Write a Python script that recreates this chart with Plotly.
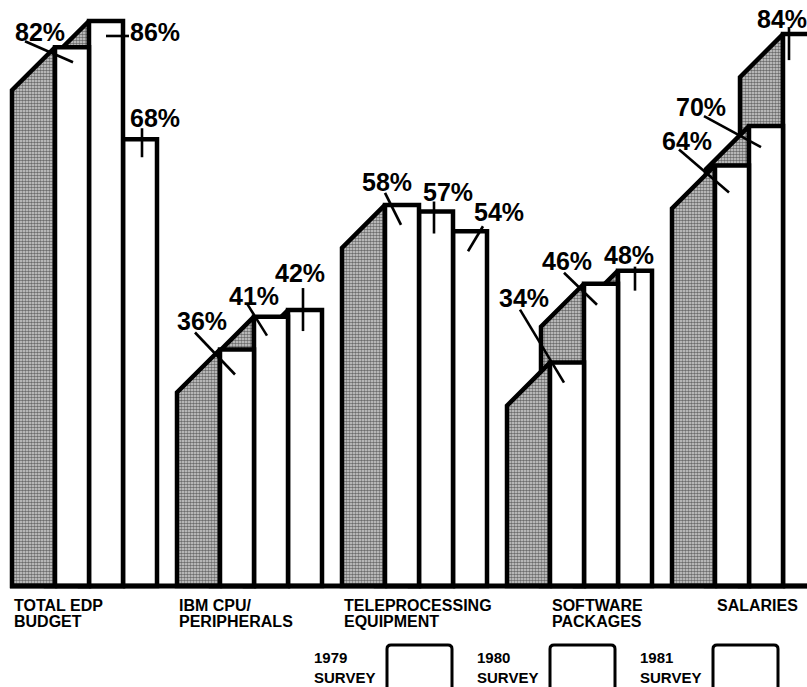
import plotly.graph_objects as go

# ---------------- data ----------------
categories = ["TOTAL EDP\nBUDGET", "IBM CPU/\nPERIPHERALS", "TELEPROCESSING\nEQUIPMENT",
              "SOFTWARE\nPACKAGES", "SALARIES"]
survey_names = ["1979\nSURVEY", "1980\nSURVEY", "1981\nSURVEY"]
survey_1979 = [82, 36, 58, 34, 64]
survey_1980 = [86, 41, 57, 46, 70]
survey_1981 = [68, 42, 54, 48, 84]
series = [survey_1979, survey_1980, survey_1981]

# ---------------- layout constants ----------------
W, H = 807, 687
PX_PER_PCT = 6.57          # vertical pixels per percentage point
BASE_PY = 586              # pixel row of the 0 % baseline
GROUP_X0 = 55              # left edge of first front bar (px)
GROUP_STEP = 165           # spacing between groups (px)
BAR_W = 34                 # bar width (px)
DEPTH = 43                 # oblique depth offset (px)
OUT_W = 4.5                # outline width
LEAD_W = 2.6               # leader line width
PCT_FONT = dict(family="Liberation Sans, Arial, sans-serif", size=25, color="black", weight="bold")
CAT_FONT = dict(family="Liberation Sans, Arial, sans-serif", size=16, color="black", weight="bold")
LEG_FONT = dict(family="Liberation Sans, Arial, sans-serif", size=15, color="black", weight="bold")

# label placement per group / bar: (text dx, text dy, line x0, line y0, line x1, line y1) in px
# relative to the bar's top-left corner
LABEL_POS = [
    [(-15, -15, -30, -6, 18, 15), (66, 11, 17, 15, 40, 15), (32, -21, 19, -11, 19, 18)],
    [(-18, -28, -25, -17, 15, 25), (0, -21, -7, -13, 13, 19), (12, -37, 15, -22, 15, 21)],
    [(2, -23, 0, -12, 16, 20), (29, -20, 15, -10, 15, 22), (46, -19, 30, -5, 15, 20)],
    [(-26, -65, -30, -53, 14, 20), (-17, -23, -20, -11, 13, 21), (11, -16, 17, -4, 17, 20)],
    [(-28, -25, -36, -16, 14, 27), (-48, -19, -45, -10, 12, 21), (-1, -15, 6, -7, 6, 26)],
]
CAT_ANCHOR = ["side", "side", "side", "front", "front"]
CAT_LINE_PY = [605, 621]
LEGEND_X0 = 387
LEGEND_STEP = 163
LEGEND_BOX_W = 65
LEGEND_BOX_TOP = 645
LEGEND_TEXT_DX = -74
LEGEND_TEXT_BOTTOM_PY = 687

STIPPLE = dict(shape=".", size=3, solidity=0.6, fgcolor="black", bgcolor="#d8d8d8", fillmode="overlay")


def ypx(py):
    """pixel row -> percentage value"""
    return (BASE_PY - py) / PX_PER_PCT


def dpy(d):
    """pixel offset (down positive) -> percentage offset"""
    return -d / PX_PER_PCT


fig = go.Figure()

for g in range(len(categories)):
    # draw back-most bar first so that front bars occlude it
    for j in reversed(range(len(series))):
        v = series[j][g]
        L = GROUP_X0 + GROUP_STEP * g + BAR_W * j
        # oblique side face
        fig.add_trace(go.Scatter(
            x=[L, L - DEPTH, L - DEPTH, L, L],
            y=[v, v + dpy(DEPTH), 0, 0, v],
            mode="lines", fill="toself", fillcolor="white",
            fillpattern=STIPPLE,
            line=dict(color="black", width=OUT_W), hoverinfo="skip", showlegend=False))
        # front face
        fig.add_trace(go.Scatter(
            x=[L, L + BAR_W, L + BAR_W, L, L],
            y=[0, 0, v, v, 0],
            mode="lines", fill="toself", fillcolor="white",
            line=dict(color="black", width=OUT_W), hoverinfo="skip", showlegend=False))

# baseline
fig.add_trace(go.Scatter(x=[GROUP_X0 - DEPTH - 2, W], y=[0, 0], mode="lines",
                         line=dict(color="black", width=5), hoverinfo="skip", showlegend=False))

annotations = []
for g in range(len(categories)):
    for j in range(len(series)):
        v = series[j][g]
        L = GROUP_X0 + GROUP_STEP * g + BAR_W * j
        tdx, tdy, lx0, ly0, lx1, ly1 = LABEL_POS[g][j]
        fig.add_trace(go.Scatter(x=[L + lx0, L + lx1], y=[v + dpy(ly0), v + dpy(ly1)], mode="lines",
                                 line=dict(color="black", width=LEAD_W), hoverinfo="skip", showlegend=False))
        annotations.append(dict(x=L + tdx, y=v + dpy(tdy), text=f"{v}%", showarrow=False,
                                xanchor="center", yanchor="middle", font=PCT_FONT))
    # category label
    first_left = GROUP_X0 + GROUP_STEP * g
    ax = first_left - DEPTH if CAT_ANCHOR[g] == "side" else first_left
    for k, line in enumerate(categories[g].split("\n")):
        annotations.append(dict(x=ax, y=ypx(CAT_LINE_PY[k]), text=line, showarrow=False,
                                xanchor="left", yanchor="middle", font=CAT_FONT))

# legend boxes
shapes = []
for s, name in enumerate(survey_names):
    bx = LEGEND_X0 + LEGEND_STEP * s
    r = 4
    top = ypx(LEGEND_BOX_TOP)
    bot = ypx(H + 10)
    rr = r / PX_PER_PCT
    path = (f"M {bx},{bot} L {bx},{top - rr} Q {bx},{top} {bx + r},{top} "
            f"L {bx + LEGEND_BOX_W - r},{top} Q {bx + LEGEND_BOX_W},{top} {bx + LEGEND_BOX_W},{top - rr} "
            f"L {bx + LEGEND_BOX_W},{bot}")
    shapes.append(dict(type="path", path=path, xref="x", yref="y",
                       line=dict(color="black", width=3), fillcolor="white"))
    annotations.append(dict(x=bx + LEGEND_TEXT_DX, y=ypx(LEGEND_TEXT_BOTTOM_PY),
                            text=name.replace("\n", "<br>"), showarrow=False, align="left",
                            xanchor="left", yanchor="bottom", borderpad=0, font=LEG_FONT))

fig.update_layout(
    width=W, height=H,
    margin=dict(l=0, r=0, t=0, b=0),
    paper_bgcolor="white", plot_bgcolor="white",
    xaxis=dict(range=[0, W], visible=False, fixedrange=True),
    yaxis=dict(range=[ypx(H), ypx(0)], visible=False, fixedrange=True),
    annotations=annotations, shapes=shapes, showlegend=False,
)

fig.write_html("out.html", config={"displayModeBar": False},
               post_script="document.body.style.margin='0';document.body.style.overflow='hidden';")
